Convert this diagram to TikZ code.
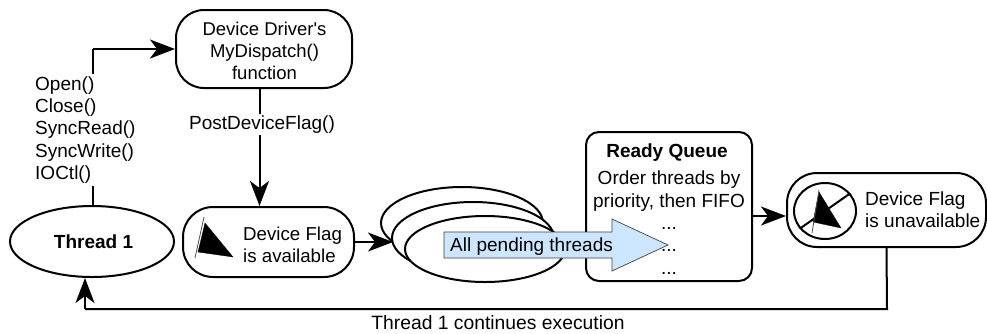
\documentclass[tikz,border=0pt]{standalone}
\usepackage{fontspec}
\setmainfont{Liberation Sans}
\usetikzlibrary{arrows.meta,shapes.geometric,shapes.arrows,calc}
\definecolor{pale}{HTML}{CCE6FF}
\tikzset{
  every node/.style={font=\fontsize{19}{22.2}\selectfont,inner sep=0pt,text=black},
  conn/.style={line width=2pt,draw=black},
  flow/.style={conn,-{Stealth[length=25pt,width=19pt,inset=7pt]}},
  pill/.style={draw=black,line width=2pt,rounded corners=#1,fill=white},
  oval/.style={ellipse,draw=black,line width=2pt,fill=white},
  plain/.style={align=center},
  leftlines/.style={align=left,anchor=west},
  flagsail/.style={fill=black,draw=black,line width=0.3pt},
  flagmast/.style={draw=black!70,line width=0.8pt},
}
\begin{document}
\begin{tikzpicture}[x=1pt,y=-1pt]
\useasboundingbox (0,0) rectangle (987,333);
% nodes
\node[oval,minimum width=164pt,minimum height=71pt] (thread) at (92,241.5) {};
\node (threadtext) at (93.5,241.5) {\textbf{Thread 1}};
\node[pill=28pt,minimum width=176pt,minimum height=78pt,plain,font=\fontsize{18.5}{22}\selectfont] (driver) at (264,49) {};
\node[plain,font=\fontsize{18.5}{22}\selectfont] (drivertext) at (264.5,51) {Device Driver\textquotesingle s\\MyDispatch()\\function};
\node[pill=30pt,minimum width=171pt,minimum height=70pt] (avail) at (268.5,242) {};
\node[leftlines,font=\fontsize{18.7}{22}\selectfont] (availtext) at (243,245) {Device Flag\\is available};
\node[oval,minimum width=162pt,minimum height=72pt] (pend1) at (462,223) {};
\node[oval,minimum width=162pt,minimum height=72pt] (pend2) at (473,238) {};
\node[oval,minimum width=160pt,minimum height=66pt] (pend3) at (485,249) {};
\node[pill=13pt,minimum width=166pt,minimum height=149pt] (queue) at (669,206.5) {};
\node[plain] (queuetitle) at (667,153) {\textbf{Ready Queue}};
\node[plain] (queuetext) at (669,191) {Order threads by\\priority, then FIFO};
\node (dotsa) at (669,228) {...};
\node (dotsb) at (669,250) {...};
\node (dotsc) at (669,273) {...};
\node[pill=30pt,minimum width=199pt,minimum height=74pt] (unavail) at (886.5,210) {};
\node[leftlines] (unavailtext) at (865,210) {Device Flag\\is unavailable};
% calls label hides the connector behind it
\coordinate (corner) at (93,49);
\coordinate (back) at (85,309);
\coordinate (backend) at (887,309);
\coordinate (pendin) at (393,242);
\draw[conn] (thread.north -| corner) -- (corner);
\node[leftlines,fill=white,inner ysep=3pt,inner xsep=0pt] (calls) at (35,130) {Open()\\Close()\\SyncRead()\\SyncWrite()\\IOCtl()};
\draw[flow] (corner) -- (driver.west);
\draw[flow] ($(driver.south)+(-4.5,0)$) -- ($(avail.north)+(-9,0)$);
\node[fill=white,inner ysep=2pt] (post) at (262,124.5) {PostDeviceFlag()};
\draw[flow] (avail.east |- pendin) -- (pendin);
\draw[flow] (queue.east |- 0,216) -- (unavail.west |- 0,216);
\draw[conn] (unavail.south) -- (backend) -- (back);
\draw[flow] (back) -- (back |- thread.south);
\node[font=\fontsize{19.3}{22}\selectfont] (cont) at (498,323) {Thread 1 continues execution};
% blue arrow
\draw[draw=black!75,line width=0.7pt,fill=pale] (444,232) -- (612,232) -- (612,219) -- (668,245) -- (612,271) -- (612,258) -- (444,258) -- cycle;
\node[anchor=west] (pending) at (450,247) {All pending threads};
% flags
\fill[flagsail] (205,223) -- (233,257) -- (198,252) -- cycle;
\draw[flagmast] (204,217) -- (195,258);
\node[draw=black,line width=2pt,ellipse,minimum width=62pt,minimum height=56pt] (nosign) at (825,211) {};
\draw[line width=2pt] (nosign.35) -- (nosign.215);
\fill[flagsail] (819,192) -- (841,228) -- (813,222) -- cycle;
\draw[flagmast] (819,190) -- (812,233);
\end{tikzpicture}
\end{document}
